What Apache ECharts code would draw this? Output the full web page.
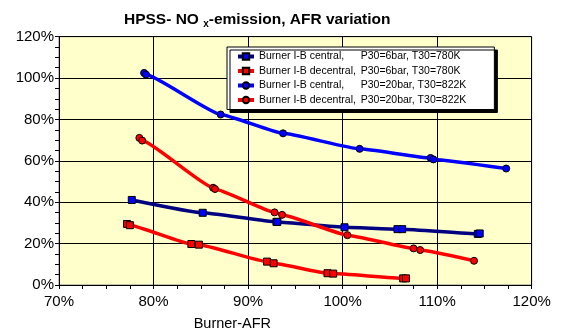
<!DOCTYPE html>
<html>
<head>
<meta charset="utf-8">
<script src="https://cdn.jsdelivr.net/npm/echarts@6/dist/echarts.min.js"></script>
<style>html,body{margin:0;padding:0;background:#fff}#c{width:563px;height:336px}</style>
</head>
<body>
<div id="c"></div>
<script>
const seriesNames = [
  'Burner I-B central,',
  'Burner I-B decentral,',
  'Burner I-B central,',
  'Burner I-B decentral,'
];
const seriesConds = [
  'P30=6bar, T30=780K',
  'P30=6bar, T30=780K',
  'P30=20bar, T30=822K',
  'P30=20bar, T30=822K'
];
// [AFR %, NOx %]
const central6 = [[77.7,41.1],[85.2,34.9],[93.0,30.5],[93.1,30.5],[100.2,27.9],[105.8,27.0],[106.3,27.0],[114.3,24.7],[114.5,24.9]];
const decentral6 = [[77.2,29.5],[77.5,28.9],[84.0,19.8],[84.8,19.5],[92.0,11.3],[92.7,10.5],[98.4,5.7],[99.0,5.5],[106.4,3.2],[106.7,3.2]];
const central20 = [[79.0,102.5],[79.2,101.7],[87.1,82.4],[93.7,73.3],[101.8,65.8],[109.3,61.4],[109.6,60.7],[117.3,56.3]];
const decentral20 = [[78.5,71.1],[78.8,69.8],[86.3,47.0],[86.5,46.4],[92.8,35.1],[93.6,33.9],[100.5,24.1],[107.5,17.7],[108.2,16.9],[113.9,11.7]];
const xTicks = [70, 80, 90, 100, 110, 120];
const yTicks = [0, 20, 40, 60, 80, 100, 120];

const FONT = 'Liberation Sans, Arial, sans-serif';
const chart = echarts.init(document.getElementById('c'), null, {renderer: 'canvas'});
const legendLabels = seriesNames.map((n, i) => n + '|' + seriesConds[i] + '|' + i);

function mk(i, data, color, lineColor, symbol) {
  return {
    name: legendLabels[i],
    type: 'line',
    data: data,
    smooth: 0.12,
    smoothMonotone: 'x',
    symbol: symbol,
    symbolSize: 7,
    lineStyle: {color: lineColor, width: 3.5},
    itemStyle: {color: color, borderColor: '#000', borderWidth: 1},
    emphasis: {disabled: true},
    z: 3
  };
}

chart.setOption({
  animation: false,
  backgroundColor: '#fff',
  title: {
    text: '{a|HPSS- NO }{s|x}{a|-emission, AFR variation}',
    left: 119, top: 6,
    textStyle: {
      rich: {
        a: {fontFamily: FONT, fontWeight: 'bold', fontSize: 15.5, lineHeight: 18, color: '#000'},
        s: {fontFamily: FONT, fontWeight: 'bold', fontSize: 10, lineHeight: 8, verticalAlign: 'bottom', color: '#000'}
      }
    }
  },
  legend: {
    orient: 'vertical',
    left: 227, top: 47,
    padding: [4, 28, 4, 9],
    itemWidth: 16, itemHeight: 8, itemGap: 3.5,
    backgroundColor: '#fff',
    borderColor: '#000', borderWidth: 1,
    shadowColor: 'rgba(0,0,0,1)', shadowBlur: 0, shadowOffsetX: 3, shadowOffsetY: 3,
    selectedMode: false,
    lineStyle: {width: 4},
    data: legendLabels,
    formatter: function (name) {
      const p = name.split('|');
      return '{a|' + p[0] + '}{b|' + p[1] + '}';
    },
    textStyle: {
      fontFamily: FONT, fontSize: 10.5, color: '#000',
      rich: {
        a: {fontFamily: FONT, fontSize: 10.5, width: 101.7, color: '#000'},
        b: {fontFamily: FONT, fontSize: 10.5, color: '#000'}
      }
    }
  },
  grid: {
    left: 59, top: 36.7, right: 31.3, bottom: 48.3,
    show: true, backgroundColor: '#FFFFCC', borderColor: '#808080', borderWidth: 1
  },
  xAxis: {
    type: 'value', min: xTicks[0], max: xTicks[xTicks.length - 1], interval: 10,
    name: 'Burner-AFR', nameLocation: 'middle', nameGap: 31,
    nameTextStyle: {fontFamily: FONT, fontSize: 14.5, color: '#000', padding: [0, 126, 0, 0]},
    axisLine: {show: true, lineStyle: {color: '#000', width: 1}},
    axisTick: {show: true, length: 4, lineStyle: {color: '#000'}},
    minorTick: {show: true, splitNumber: 4, length: 4, lineStyle: {color: '#000'}},
    splitLine: {show: true, lineStyle: {color: '#000', width: 1}},
    axisLabel: {fontFamily: FONT, fontSize: 15, color: '#000', margin: 9, formatter: '{value}%'}
  },
  yAxis: {
    type: 'value', min: yTicks[0], max: yTicks[yTicks.length - 1], interval: 20,
    axisLine: {show: true, lineStyle: {color: '#000', width: 1}},
    axisTick: {show: true, length: 4, lineStyle: {color: '#000'}},
    minorTick: {show: true, splitNumber: 4, length: 4, lineStyle: {color: '#000'}},
    splitLine: {show: true, lineStyle: {color: '#000', width: 1}},
    axisLabel: {fontFamily: FONT, fontSize: 15, color: '#000', margin: 5, formatter: '{value}%'}
  },
  series: [
    mk(0, central6, '#0000FF', '#000080', 'rect'),
    mk(1, decentral6, '#FF0000', '#FF0000', 'rect'),
    mk(2, central20, '#0000FF', '#0000FF', 'circle'),
    mk(3, decentral20, '#FF0000', '#FF0000', 'circle')
  ]
});
</script>
</body>
</html>
